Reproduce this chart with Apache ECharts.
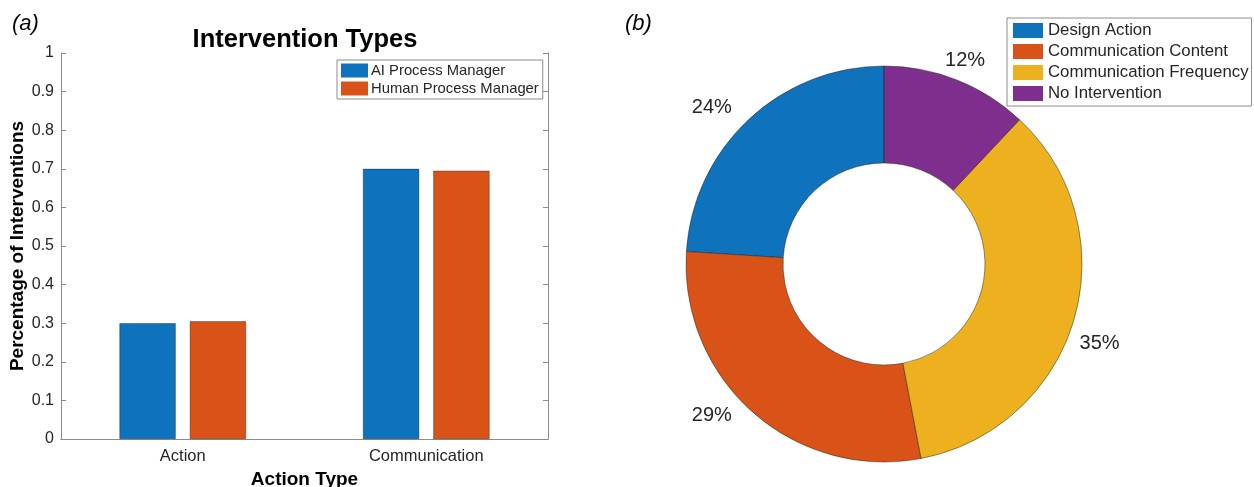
<!DOCTYPE html>
<html><head><meta charset="utf-8">
<script src="https://cdn.jsdelivr.net/npm/echarts@6/dist/echarts.min.js"></script>
<style>html,body{margin:0;padding:0;background:#fff}#c{width:1254px;height:487px}</style>
</head><body><div id="c"></div>
<script>
const categories = ['Action', 'Communication'];
const aiValues = [0.30, 0.70];
const humanValues = [0.305, 0.695];
const barSeriesNames = ['AI Process Manager', 'Human Process Manager'];
const yTicks = [0, 0.1, 0.2, 0.3, 0.4, 0.5, 0.6, 0.7, 0.8, 0.9, 1];
const pieNames = ['Design Action', 'Communication Content', 'Communication Frequency', 'No Intervention'];
const pieValues = [24, 29, 35, 12];

const FONT = '"Liberation Sans", Arial, Helvetica, sans-serif';
const BLUE = '#0F72BD', ORANGE = '#D95319', YELLOW = '#EDB120', PURPLE = '#7E2F8E';
const AX = '#8c8c8c', TXT = '#262626';
// small style nudges for the pie percentage labels (pixels)
const pieLabelNudge = [[-2, -2], [-7, -8], [-13, 20], [-22, -6]];

const chart = echarts.init(document.getElementById('c'), null, {renderer: 'canvas'});
chart.setOption({
  animation: false,
  textStyle: {fontFamily: FONT},
  title: [
    {text: 'Intervention Types', left: 300, top: 22, textAlign: 'center',
     textStyle: {fontFamily: FONT, fontSize: 25.5, fontWeight: 'bold', color: '#000'}},
    {text: '(a)', left: 7, top: 8, textStyle: {fontFamily: FONT, fontSize: 22, fontWeight: 'normal', fontStyle: 'italic', color: '#000'}},
    {text: '(b)', left: 620, top: 8, textStyle: {fontFamily: FONT, fontSize: 22, fontWeight: 'normal', fontStyle: 'italic', color: '#000'}}
  ],
  legend: [
    {data: barSeriesNames, orient: 'vertical', left: 337, top: 60, itemWidth: 27, itemHeight: 14, itemGap: 3,
     padding: [3, 4, 3, 4], borderColor: AX, borderWidth: 1, backgroundColor: '#fff',
     textStyle: {fontFamily: FONT, fontSize: 14.8, color: TXT, padding: [0, 0, 0, -2]}, icon: 'rect',
     itemStyle: {borderWidth: 0}},
    {data: pieNames, orient: 'vertical', left: 1007, top: 18, itemWidth: 30, itemHeight: 15, itemGap: 4,
     padding: [4, 3, 4, 6], borderColor: AX, borderWidth: 1, backgroundColor: '#fff',
     textStyle: {fontFamily: FONT, fontSize: 16.8, color: TXT}, icon: 'rect',
     itemStyle: {borderWidth: 0}}
  ],
  grid: {left: 61, right: 706, top: 53, bottom: 48, containLabel: false, outerBoundsMode: 'none'},
  xAxis: [
    {type: 'category', data: categories, position: 'bottom',
     name: 'Action Type', nameLocation: 'middle', nameGap: 31,
     nameTextStyle: {fontFamily: FONT, fontSize: 19, fontWeight: 'bold', color: '#000'},
     axisLine: {lineStyle: {color: AX, width: 1}},
     axisTick: {inside: true, alignWithLabel: true, length: 5, lineStyle: {color: AX}},
     axisLabel: {fontFamily: FONT, fontSize: 16.5, color: TXT, margin: 9}},
    {type: 'category', data: categories, position: 'top',
     axisLine: {lineStyle: {color: AX, width: 1}},
     axisTick: {inside: true, alignWithLabel: true, length: 5, lineStyle: {color: AX}},
     axisLabel: {show: false}}
  ],
  yAxis: [
    {type: 'value', min: 0, max: 1, interval: 0.1, position: 'left',
     name: 'Percentage of Interventions', nameLocation: 'middle', nameGap: 34,
     nameTextStyle: {fontFamily: FONT, fontSize: 19, fontWeight: 'bold', color: '#000'},
     axisLine: {show: true, lineStyle: {color: AX, width: 1}},
     axisTick: {show: true, inside: true, length: 5, lineStyle: {color: AX}},
     splitLine: {show: false},
     axisLabel: {fontFamily: FONT, fontSize: 16, color: TXT, margin: 7,
       formatter: v => { const t = yTicks.find(k => Math.abs(k - v) < 1e-9); return t === undefined ? '' : String(+t.toFixed(1)); }}},
    {type: 'value', min: 0, max: 1, interval: 0.1, position: 'right',
     axisLine: {show: true, lineStyle: {color: AX, width: 1}},
     axisTick: {show: true, inside: true, length: 5, lineStyle: {color: AX}},
     splitLine: {show: false}, axisLabel: {show: false}}
  ],
  series: [
    {name: barSeriesNames[0], type: 'bar', data: aiValues, xAxisIndex: 0, yAxisIndex: 0,
     barGap: '25%', barCategoryGap: '48%',
     itemStyle: {color: BLUE, borderColor: 'rgba(0,0,0,0.55)', borderWidth: 0.6}},
    {name: barSeriesNames[1], type: 'bar', data: humanValues, xAxisIndex: 0, yAxisIndex: 0,
     itemStyle: {color: ORANGE, borderColor: 'rgba(0,0,0,0.55)', borderWidth: 0.6}},
    {name: 'pie', type: 'pie', center: [884, 264], radius: [101, 198], startAngle: 90, clockwise: false,
     data: pieNames.map((n, i) => ({name: n, value: pieValues[i]})),
     color: [BLUE, ORANGE, YELLOW, PURPLE],
     itemStyle: {borderColor: 'rgba(40,30,20,0.8)', borderWidth: 0.6},
     label: {show: true, position: 'outside', formatter: p => p.value + '%',
       fontFamily: FONT, fontSize: 20, color: TXT},
     labelLine: {show: false, length: 14, length2: 0},
     labelLayout: p => ({dx: pieLabelNudge[p.dataIndex][0], dy: pieLabelNudge[p.dataIndex][1]}),
     emphasis: {disabled: true}}
  ]
});
</script></body></html>
